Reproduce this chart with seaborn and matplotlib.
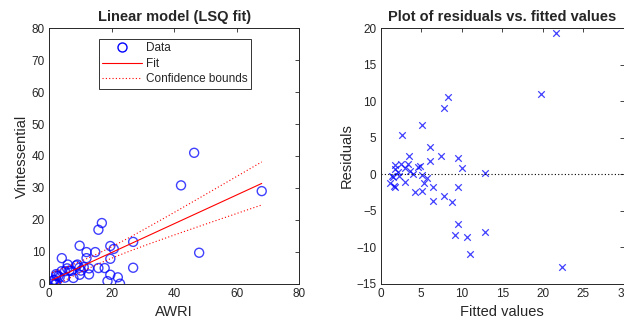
import numpy as np
import matplotlib
matplotlib.use("Agg")
import matplotlib.pyplot as plt
import seaborn as sns
from matplotlib.lines import Line2D

# data (AWRI vs Vintessential)
awri = [46.4, 42.2, 16.9, 15.8, 9.8, 4.1, 12.0, 14.8, 6.0, 19.6,
        12.0, 20.7, 26.9, 9.1, 2.3, 4.0, 5.8, 8.7, 2.4, 5.1,
        6.5, 7.1, 9.7, 11.1, 1.5, 3.4, 1.0, 5.1, 10.2, 2.3,
        9.8, 7.8, 12.8, 19.6, 15.8, 12.8, 17.8, 19.6, 18.7, 22.0,
        26.9, 22.7, 48.0, 2.0, 68.0, 3.0, 1.8]
vint = [41.0, 30.8, 19.0, 16.9, 11.9, 8.0, 9.9, 9.9, 6.0, 11.8,
        8.0, 10.9, 13.1, 6.0, 3.0, 3.9, 4.8, 5.7, 2.5, 3.9,
        4.1, 4.0, 5.0, 5.2, 1.1, 2.0, 0.0, 1.9, 4.1, 0.0,
        2.8, 1.8, 4.8, 7.8, 4.9, 2.9, 4.9, 2.8, 0.8, 2.0,
        5.0, 0.0, 9.7, 0.0, 29.0, 2.4, 1.2]

x = np.array(awri)
y = np.array(vint)

# least squares fit + confidence bounds of the fitted line
slope, icpt = np.polyfit(x, y, 1)
fitted = icpt + slope * x
resid = y - fitted
n = len(x)
s = np.sqrt(np.sum(resid ** 2) / (n - 2))
xs = np.linspace(x.min(), x.max(), 100)
ys = icpt + slope * xs
half = 2.014 * s * np.sqrt(1 / n + (xs - x.mean()) ** 2 / np.sum((x - x.mean()) ** 2))

sns.set_style("white")
plt.rcParams['font.family'] = ['Liberation Sans', 'DejaVu Sans']
grey = '#262626'

fig = plt.figure(figsize=(6.24, 3.29), dpi=100)
ax1 = fig.add_axes([0.0785, 0.1377, 0.4011, 0.7763])
ax2 = fig.add_axes([0.6101, 0.1377, 0.3894, 0.7763])

# left: linear model
sns.scatterplot(x=x, y=y, ax=ax1, marker='o', s=42, facecolors='none',
                edgecolors='blue', linewidth=1.0, alpha=0.75)
sns.lineplot(x=xs, y=ys, ax=ax1, color='red', linewidth=0.8)
sns.lineplot(x=xs, y=ys + half, ax=ax1, color='red', linewidth=0.8, linestyle=(0, (1, 2)))
sns.lineplot(x=xs, y=ys - half, ax=ax1, color='red', linewidth=0.8, linestyle=(0, (1, 2)))
ax1.set_xlim(0, 80)
ax1.set_ylim(0, 80)
ax1.set_xticks(range(0, 81, 20))
ax1.set_yticks(range(0, 81, 10))
ax1.set_xlabel("AWRI", fontsize=10.5, color=grey)
ax1.set_ylabel("Vintessential", fontsize=10.5, color=grey, labelpad=2)
ax1.set_title("Linear model (LSQ fit)", fontsize=10.5, fontweight='bold', pad=5)

handles = [
    Line2D([], [], marker='o', linestyle='none', markerfacecolor='none',
           markeredgecolor='blue', markersize=6.5),
    Line2D([], [], color='red', linewidth=0.8),
    Line2D([], [], color='red', linewidth=0.8, linestyle=(0, (1, 2))),
]
leg = ax1.legend(handles, ["Data", "Fit", "Confidence bounds"], loc='upper center',
                 bbox_to_anchor=(0.503, 0.982), fontsize=8.5, frameon=True,
                 fancybox=False, edgecolor='black', borderpad=0.3,
                 labelspacing=0.3, handlelength=3.4, handletextpad=0.3)
leg.get_frame().set_linewidth(0.7)

# right: residuals
sns.scatterplot(x=fitted, y=resid, ax=ax2, marker='x', s=22, color='blue',
                linewidth=0.9, alpha=0.75)
ax2.axhline(0, color='black', linestyle=(0, (1, 2)), linewidth=0.8)
ax2.set_xlim(0, 30)
ax2.set_ylim(-15, 20)
ax2.set_xticks(range(0, 31, 5))
ax2.set_yticks(range(-15, 21, 5))
ax2.set_xlabel("Fitted values", fontsize=10.5, color=grey)
ax2.set_ylabel("Residuals", fontsize=10.5, color=grey, labelpad=2)
ax2.set_title("Plot of residuals vs. fitted values", fontsize=10.5, fontweight='bold', pad=5)

for ax in (ax1, ax2):
    ax.tick_params(direction='in', length=3, width=0.6, labelsize=8.5,
                   colors=grey, top=True, right=True, pad=3)
    for sp in ax.spines.values():
        sp.set_visible(True)
        sp.set_color(grey)
        sp.set_linewidth(0.7)

fig.savefig("out.png", dpi=100)
